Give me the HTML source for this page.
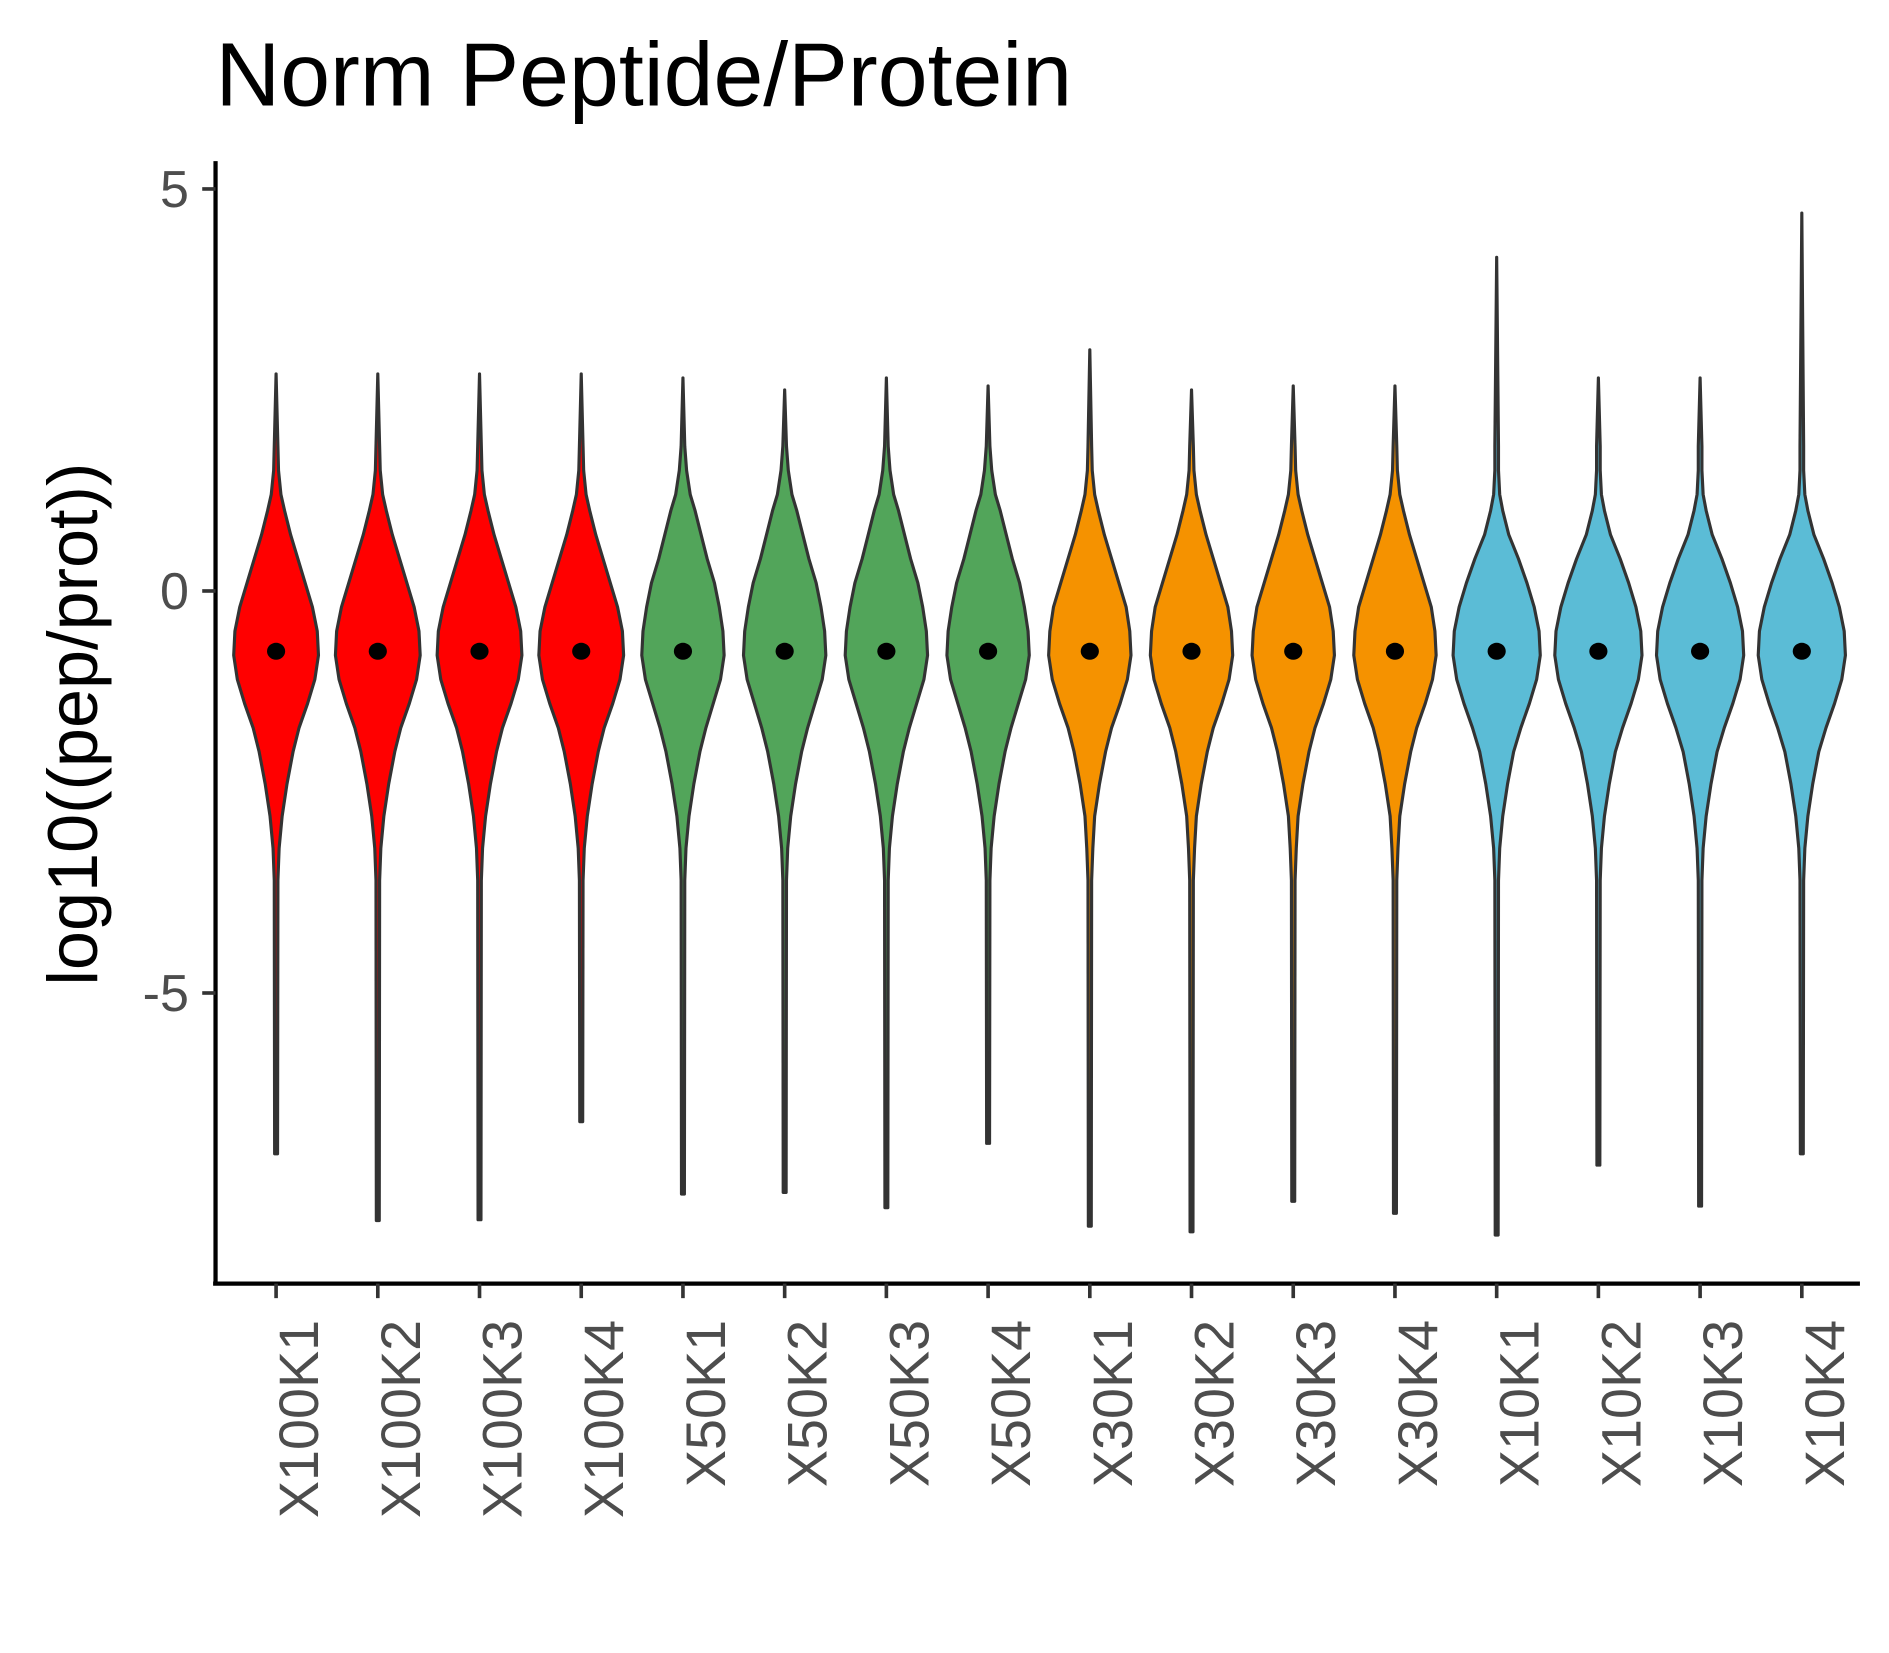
<!DOCTYPE html>
<html><head><meta charset="utf-8"><style>html,body{margin:0;padding:0;background:#fff}svg{display:block}</style></head>
<body>
<svg id="chart" width="1889" height="1653" viewBox="0 0 1560 1365" xmlns="http://www.w3.org/2000/svg" font-family="Liberation Sans, Arial, sans-serif">
<rect width="1560" height="1365" fill="#fff"/>
<text x="178" y="87" font-size="74" fill="#000">Norm Peptide/Protein</text>
<text transform="translate(80,598) rotate(-90)" font-size="58" text-anchor="middle" fill="#000">log10((pep/prot))</text>
<g id="plot"></g>
<line x1="178" y1="133" x2="178" y2="1061" stroke="#000" stroke-width="3.5"/>
<line x1="176" y1="1060" x2="1536" y2="1060" stroke="#000" stroke-width="3.5"/>
</svg>
<script>
const categories = ["X100K1","X100K2","X100K3","X100K4","X50K1","X50K2","X50K3","X50K4","X30K1","X30K2","X30K3","X30K4","X10K1","X10K2","X10K3","X10K4"];
const groupOf = [0,0,0,0,1,1,1,1,2,2,2,2,3,3,3,3];
const groupColors = ["#FF0000","#52A55A","#F59200","#5BBCD6"];
const maxVals = [2.7,2.7,2.7,2.7,2.65,2.5,2.65,2.55,3.0,2.5,2.55,2.55,4.15,2.65,2.65,4.7];
const minVals = [-7.0,-7.83,-7.82,-6.6,-7.5,-7.48,-7.67,-6.87,-7.9,-7.97,-7.59,-7.74,-8.01,-7.14,-7.65,-7.0];
const medians = [-0.75,-0.75,-0.75,-0.75,-0.75,-0.75,-0.75,-0.75,-0.75,-0.75,-0.75,-0.75,-0.75,-0.75,-0.75,-0.75];
const densityLevels = [1.8,1.5,1.2,1.0,0.7,0.4,0.1,-0.2,-0.5,-0.8,-1.1,-1.4,-1.7,-2.0,-2.4,-2.8,-3.2,-3.6];
const densityRed = [1.5,2,4,7,12,18,24,30,34,35,32,26,19,14,9,5,2.5,1.5];
const densityGreen = [1.5,3,6,10,15,20,26,30,33,34,31,25,19,14,9,5,2.5,1.5];
const densityOrange = [1.5,2,4,7,12,18,24,30,33,34,31,25,18,13,8,4,2.5,1.5];
const densityBlue = [1.5,1.5,2.5,5,10,18,25,31,35,36,33,27,20,14,9,5,2.5,1.5];
const yTicks = [5,0,-5];
const yTickLabels = ["5","0","-5"];

const densities = [densityRed,densityGreen,densityOrange,densityBlue];
const yScale = v => 488 - v*66.4;
const xScale = i => 228 + i*84;
const NS = "http://www.w3.org/2000/svg";
const plot = document.getElementById('plot');
const svg = document.getElementById('chart');

yTicks.forEach((t,k)=>{
  const ln = document.createElementNS(NS,'line');
  
  
  ln.setAttribute('x1',167);ln.setAttribute('x2',178);
  ln.setAttribute('y1',yScale(t));ln.setAttribute('y2',yScale(t));
  ln.setAttribute('stroke','#333');ln.setAttribute('stroke-width','3');
  svg.appendChild(ln);
  const tx = document.createElementNS(NS,'text');
  
  
  tx.setAttribute('x',156);tx.setAttribute('y',yScale(t)+15);
  tx.setAttribute('text-anchor','end');tx.setAttribute('font-size','43');tx.setAttribute('fill','#4d4d4d');
  tx.textContent = yTickLabels[k];
  svg.appendChild(tx);
});

categories.forEach((c,i)=>{
  const cx = xScale(i);
  const d = densities[groupOf[i]];
  const pts = [];
  pts.push([0, maxVals[i]]);
  densityLevels.forEach((lv,j)=>pts.push([d[j], lv]));
  pts.push([1.2, minVals[i]]);
  let p = '';
  pts.forEach((q,j)=>{ p += (j?'L':'M') + (cx+q[0]) + ',' + yScale(q[1]) + ' '; });
  for (let j=pts.length-1;j>=0;j--){ p += 'L' + (cx-pts[j][0]) + ',' + yScale(pts[j][1]) + ' '; }
  p += 'Z';
  const path = document.createElementNS(NS,'path');
  
  
  path.setAttribute('d',p);
  path.setAttribute('fill',groupColors[groupOf[i]]);
  path.setAttribute('stroke','#333');path.setAttribute('stroke-width','2.6');
  path.setAttribute('stroke-linejoin','round');
  plot.appendChild(path);
  const dot = document.createElementNS(NS,'ellipse');
  
  
  dot.setAttribute('cx',cx);dot.setAttribute('cy',yScale(medians[i]));
  dot.setAttribute('rx',7.5);dot.setAttribute('ry',7);dot.setAttribute('fill','#000');
  plot.appendChild(dot);
  const tk = document.createElementNS(NS,'line');
  
  
  tk.setAttribute('x1',cx);tk.setAttribute('x2',cx);tk.setAttribute('y1',1060);tk.setAttribute('y2',1072);
  tk.setAttribute('stroke','#333');tk.setAttribute('stroke-width','3');
  svg.appendChild(tk);
  const lb = document.createElementNS(NS,'text');
  
  
  lb.setAttribute('transform','translate('+(cx+19)+',1090) rotate(-90)');
  lb.setAttribute('text-anchor','end');lb.setAttribute('dominant-baseline','central');
  lb.setAttribute('font-size','46');lb.setAttribute('fill','#4d4d4d');
  lb.textContent = c;
  svg.appendChild(lb);
});
</script>
</body></html>
